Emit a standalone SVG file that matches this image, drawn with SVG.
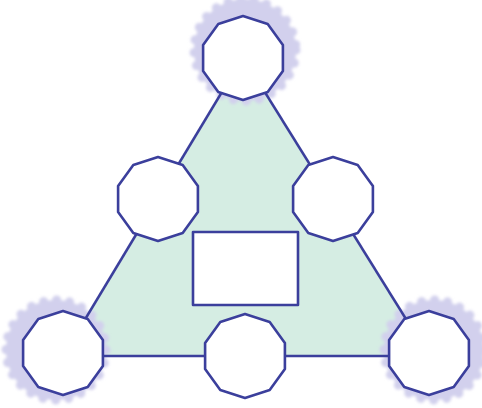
<svg xmlns="http://www.w3.org/2000/svg" width="482" height="408" viewBox="0 0 482 408">
<style>
.edge{stroke:#3b3f9c;stroke-width:2.5;fill:none;stroke-linejoin:round}
.node{fill:#ffffff;stroke:#3b3f9c;stroke-width:2.6;stroke-linejoin:round}
.halo{fill:#d2d0ed;stroke:#d2d0ed;stroke-width:9;stroke-dasharray:0.1 13;stroke-linecap:round;filter:url(#soft)}
</style>
<defs>
<polygon id="deca" points="0,-42 24.7,-34 39.9,-13 39.9,13 24.7,34 0,42 -24.7,34 -39.9,13 -39.9,-13 -24.7,-34"/>
<filter id="soft" x="-20%" y="-20%" width="140%" height="140%"><feGaussianBlur stdDeviation="1.8"/></filter>
</defs>
<rect width="482" height="408" fill="#ffffff"/>
<polygon points="243,57 63,356 429,356" fill="#d5ede3"/>
<circle class="halo" cx="245" cy="50" r="51"/>
<circle class="halo" cx="56" cy="350" r="50"/>
<circle class="halo" cx="434" cy="350" r="50"/>
<g id="connectors">
<line class="edge" x1="243" y1="57" x2="63" y2="356"/>
<line class="edge" x1="243" y1="57" x2="429" y2="356"/>
<line class="edge" x1="63" y1="356" x2="429" y2="356"/>
</g>
<g id="node-top"><use href="#deca" class="node" transform="translate(243,58)"/></g>
<g id="node-midleft"><use href="#deca" class="node" transform="translate(158,199)"/></g>
<g id="node-midright"><use href="#deca" class="node" transform="translate(333,199)"/></g>
<g id="node-bottomleft"><use href="#deca" class="node" transform="translate(63,353)"/></g>
<g id="node-bottommid"><use href="#deca" class="node" transform="translate(245,356)"/></g>
<g id="node-bottomright"><use href="#deca" class="node" transform="translate(429,353)"/></g>
<g id="node-center"><rect class="node" x="193" y="232" width="105" height="73"/></g>
</svg>
